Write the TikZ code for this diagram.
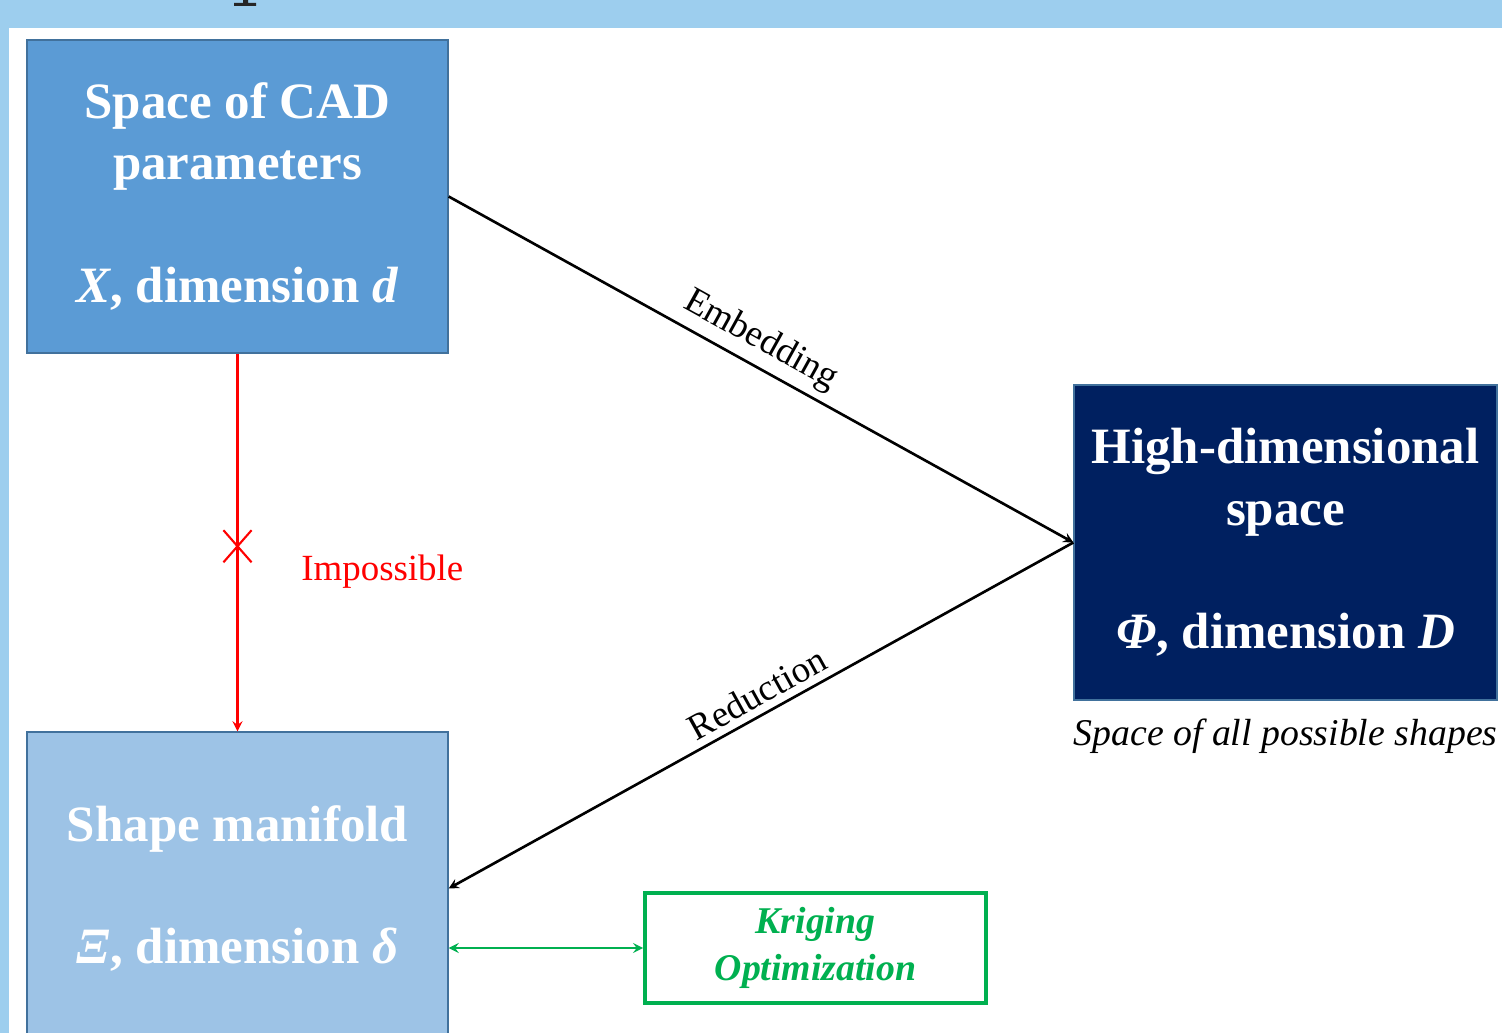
\documentclass[tikz,border=0pt]{standalone}
\usepackage{fontspec}
\setmainfont{Liberation Serif}
\usepackage{tikz}
\usetikzlibrary{positioning}
\usetikzlibrary{shapes.misc}
\definecolor{band}{HTML}{9DCEEE}
\definecolor{cadblue}{HTML}{5B9BD5}
\definecolor{navy}{HTML}{002060}
\definecolor{manifold}{HTML}{9DC3E6}
\definecolor{boxline}{HTML}{41719C}
\definecolor{kgreen}{HTML}{00B050}
\tikzset{
  block/.style={draw=boxline,line width=0.8pt,text=white,align=center,inner sep=0pt,
    minimum width=8.42cm,minimum height=6.26cm,
    font=\fontsize{29}{35}\selectfont\bfseries},
  krig/.style={draw=kgreen,line width=2.2pt,fill=white,text=kgreen,align=center,
    minimum width=6.82cm,minimum height=2.2cm,
    font=\fontsize{21.5}{27}\selectfont\bfseries\itshape},
  lab/.style={font=\fontsize{21}{24}\selectfont,inner sep=4pt},
  caption/.style={font=\fontsize{21.5}{24}\selectfont\itshape,inner sep=0pt}
}

\begin{document}
\begin{tikzpicture}[x=0.02cm,y=-0.02cm]
  \clip (0,0) rectangle (1502,1033);
  \fill[band] (0,0) rectangle (1502,28);
  \fill[band] (0,28) rectangle (9,1033);
  \fill[black!85] (243,0) rectangle (248,5) (234,3) rectangle (256,6);

  \node[block,fill=cadblue] (cad) at (237.5,196.5)
    {Space of CAD\\parameters\\[35pt]\textit{X}, dimension \textit{d}};
  \node[block,fill=navy,minimum width=8.46cm,minimum height=6.3cm] (high) at (1285.5,542.5)
    {High-dimensional\\space\\[35pt]\textit{Φ}, dimension \textit{D}};
  \node[block,fill=manifold] (mani) at (237.5,888.5)
    {Shape manifold\\[35pt]\textit{Ξ}, dimension \textit{δ}};
  \node[krig] (krig) at (815.5,948) {Kriging\\Optimization};
  \node[caption,below=0.36cm of high] (cap) {Space of all possible shapes};

  \path[-stealth,line width=1.5pt]
    (cad.east) edge node[lab,sloped,above,pos=.48] {Embedding} (high.west)
    (high.west) edge node[lab,sloped,above,pos=.49] {Reduction} (mani.east);
  \draw[-stealth,red,line width=1.5pt] (cad.south) -- (mani.north)
    node[pos=.51,cross out,draw,line width=1.2pt,inner sep=0pt,
      minimum width=0.52cm,minimum height=0.6cm] (xmark) {};
  \node[lab,text=red,anchor=west] (imp) at (294,572) {Impossible};
  \draw[stealth-stealth,kgreen,line width=1.5pt] (krig.west) -- (krig.west -| mani.east);
\end{tikzpicture}
\end{document}
